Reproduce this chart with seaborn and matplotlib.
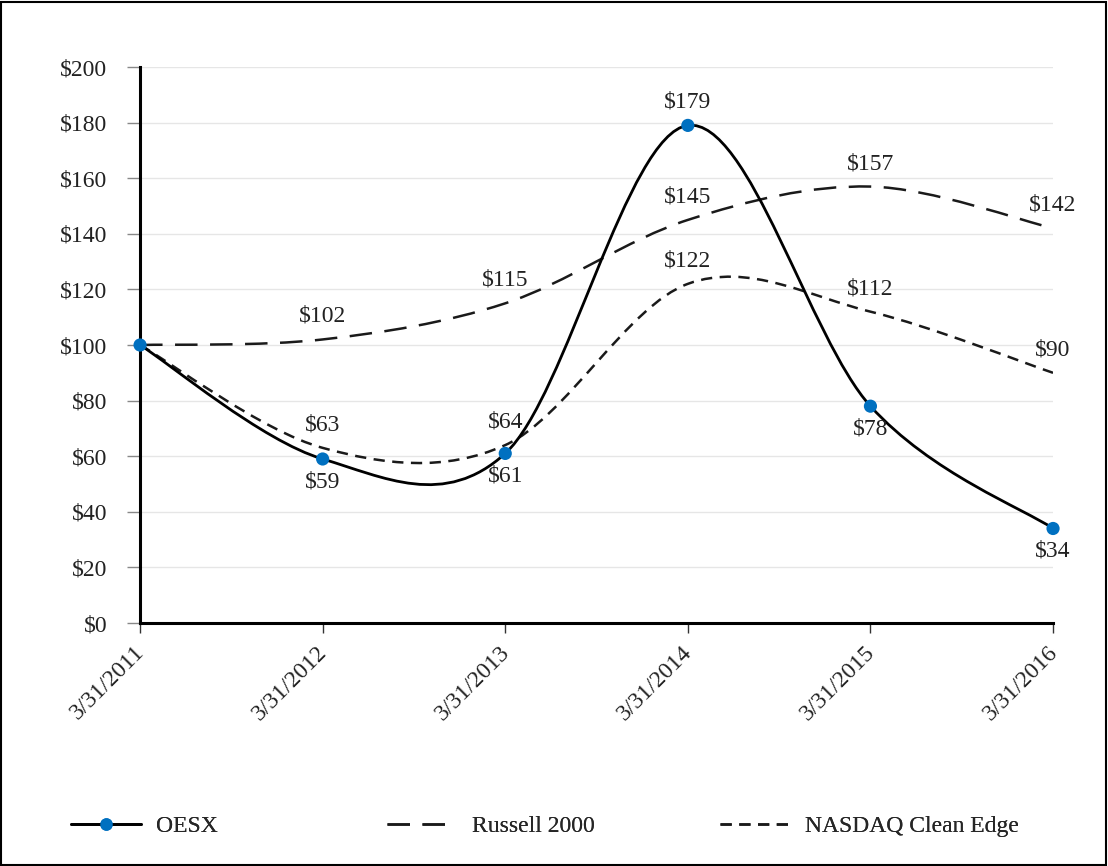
import numpy as np
import seaborn as sns
import matplotlib.pyplot as plt
import matplotlib.transforms as mtransforms
from matplotlib.path import Path
from matplotlib.patches import PathPatch, Rectangle
from matplotlib.lines import Line2D

dates = ["3/31/2011", "3/31/2012", "3/31/2013", "3/31/2014", "3/31/2015", "3/31/2016"]
oesx = [100, 59, 61, 179, 78, 34]
russell = [100, 102, 115, 145, 157, 142]
nasdaq = [100, 63, 64, 122, 112, 90]

# label placement: 1 above, -1 below, 0 none
oesx_pos = [0, -1, -1, 1, -1, -1]
russell_pos = [0, 1, 1, 1, 1, 1]
nasdaq_pos = [0, 1, 1, 1, 1, 1]

sns.set_theme(style="white")
plt.rcParams['font.family'] = ['Liberation Serif', 'DejaVu Serif']
FS = 17

fig = plt.figure(figsize=(11.08, 8.66), dpi=100)
ax = fig.add_axes([0.1264, 0.2806, 0.824, 0.642])
fig.add_artist(Rectangle((0.001, 0.001), 0.997, 0.997, transform=fig.transFigure,
                         fill=False, edgecolor="black", lw=1.5))


def smooth_path(ys):
    # excel-style smoothed line: cubic bezier through the points
    pts = [(float(i), float(v)) for i, v in enumerate(ys)]
    n = len(pts)
    verts = [pts[0]]
    codes = [Path.MOVETO]
    for i in range(n - 1):
        p0 = pts[max(i - 1, 0)]
        p1 = pts[i]
        p2 = pts[i + 1]
        p3 = pts[min(i + 2, n - 1)]
        c1 = (p1[0] + (p2[0] - p0[0]) / 6, p1[1] + (p2[1] - p0[1]) / 6)
        c2 = (p2[0] - (p3[0] - p1[0]) / 6, p2[1] - (p3[1] - p1[1]) / 6)
        verts += [c1, c2, p2]
        codes += [Path.CURVE4] * 3
    return Path(verts, codes)


long_dash = (0, (9, 5))
short_dash = (0, (4.5, 3))

ax.add_patch(PathPatch(smooth_path(russell), fill=False, edgecolor="#1a1a1a",
                       lw=1.8, linestyle=long_dash, zorder=3))
ax.add_patch(PathPatch(smooth_path(nasdaq), fill=False, edgecolor="#1a1a1a",
                       lw=1.8, linestyle=short_dash, zorder=3))
ax.add_patch(PathPatch(smooth_path(oesx), fill=False, edgecolor="black",
                       lw=2.0, zorder=4))
sns.scatterplot(x=list(range(len(dates))), y=oesx, ax=ax, color="#0070C0",
                s=90, edgecolor="none", zorder=5, legend=False, clip_on=False)

for vals, pos in [(oesx, oesx_pos), (russell, russell_pos), (nasdaq, nasdaq_pos)]:
    for i, (v, p) in enumerate(zip(vals, pos)):
        if p == 0:
            continue
        ax.annotate(f"${v}", (i, v), xytext=(0, 9 * p), textcoords="offset points",
                    ha="center", va="bottom" if p > 0 else "top",
                    fontsize=FS, color="#222222", zorder=6)

ax.set_xlim(0, 5)
ax.set_ylim(0, 200)
ax.set_xticks(range(len(dates)))
ax.set_xticklabels(dates, rotation=45, ha="right", rotation_mode="anchor")
ax.set_yticks(range(0, 201, 20))
ax.set_yticklabels([f"${v}" for v in range(0, 201, 20)])
ax.tick_params(axis="both", labelsize=FS, colors="#222222", width=1,
               direction="out", bottom=True, left=True)
ax.tick_params(axis="y", color="#888888", length=9.4, pad=14)
ax.tick_params(axis="x", color="#333333", length=7, pad=5)
shift = mtransforms.ScaledTranslation(-6 / 100, -2 / 100, fig.dpi_scale_trans)
for lab in ax.get_xticklabels():
    lab.set_transform(lab.get_transform() + shift)
ax.yaxis.grid(True, color="#e6e6e6", lw=1)
ax.set_axisbelow(True)
for s in ["top", "right"]:
    ax.spines[s].set_visible(False)
for s in ["left", "bottom"]:
    ax.spines[s].set_linewidth(2.2)
    ax.spines[s].set_color("black")

entries = [
    (Line2D([], [], color="black", lw=2, marker="o", markersize=8,
            markerfacecolor="#0070C0", markeredgecolor="#0070C0"), "OESX", 0.064),
    (Line2D([], [], color="#1a1a1a", lw=1.8, linestyle=long_dash), "Russell 2000", 0.349),
    (Line2D([], [], color="#1a1a1a", lw=1.8, linestyle=short_dash), "NASDAQ Clean Edge", 0.650),
]
for h, lab, x0 in entries:
    leg = fig.legend([h], [lab], loc="center left", bbox_to_anchor=(x0, 0.046),
                     frameon=False, fontsize=FS, handlelength=2.95, handletextpad=0.65,
                     borderpad=0, borderaxespad=0)
    fig.add_artist(leg)

fig.savefig("out.png", dpi=100)
